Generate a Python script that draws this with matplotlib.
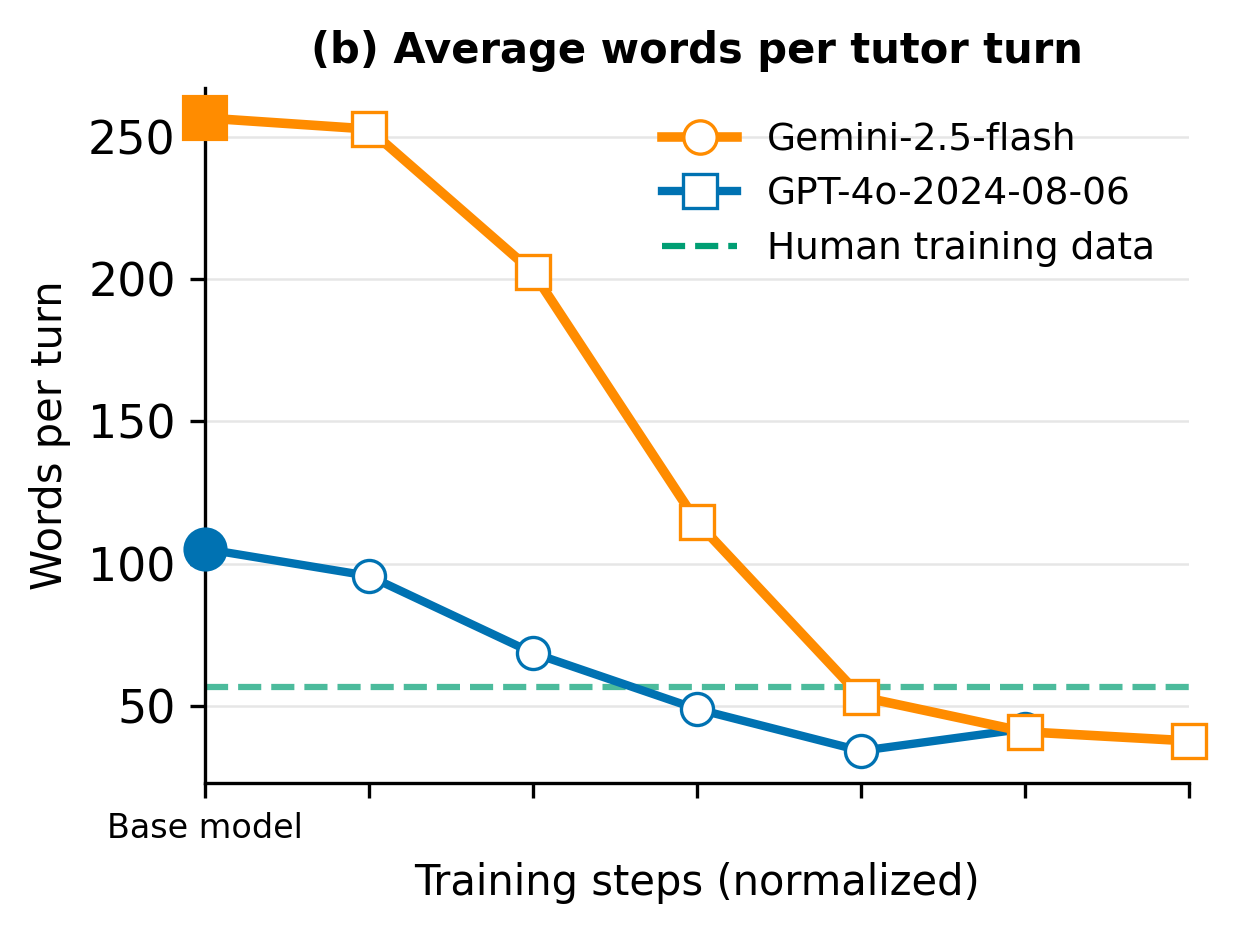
import matplotlib
matplotlib.use("Agg")
import matplotlib.pyplot as plt
from matplotlib.lines import Line2D

# values
gemini_steps = [0, 1, 2, 3, 4, 5, 6]
gemini_words = [256.7, 252.8, 202.5, 114.7, 53.2, 40.9, 37.7]
gpt_steps = [0, 1, 2, 3, 4, 5]
gpt_words = [105.2, 95.7, 68.6, 48.9, 34.2, 42.0]
human_words = 56.7
x_ticks = [0, 1, 2, 3, 4, 5, 6]
x_tick_labels = ["Base model", "", "", "", "", "", ""]
y_ticks = [50, 100, 150, 200, 250]

ORANGE = "#FF8C00"
BLUE = "#0072B2"
GREEN = "#009E73"

fig = plt.figure(figsize=(1234 / 300, 934 / 300), dpi=300)
ax = fig.add_axes([0.166, 0.1617, 0.7975, 0.744])

ax.axhline(human_words, color=GREEN, lw=1.5, ls="--", alpha=0.7, zorder=2)

ax.plot(gpt_steps, gpt_words, color=BLUE, lw=2.0, marker="o", ms=7.7,
        mfc="white", mec=BLUE, mew=0.8, zorder=3, clip_on=False)
ax.plot(gpt_steps[:1], gpt_words[:1], marker="o", ms=9.6, color=BLUE,
        ls="none", zorder=4, clip_on=False)

ax.plot(gemini_steps, gemini_words, color=ORANGE, lw=2.3, marker="s", ms=8,
        mfc="white", mec=ORANGE, mew=0.8, zorder=5, clip_on=False)
ax.plot(gemini_steps[:1], gemini_words[:1], marker="s", ms=10, color=ORANGE,
        ls="none", zorder=6, clip_on=False)

ax.set_xlim(0, 6)
ax.set_ylim(22.9, 267.2)
ax.set_xticks(x_ticks)
ax.set_xticklabels(x_tick_labels, fontsize=8)
ax.set_yticks(y_ticks)
ax.tick_params(axis="y", labelsize=11, width=0.8)
ax.tick_params(axis="x", width=0.8)
ax.grid(axis="y", color="#e6e6e6", lw=0.6, zorder=0)
ax.set_axisbelow(True)
for side in ("top", "right"):
    ax.spines[side].set_visible(False)

ax.set_xlabel("Training steps (normalized)", fontsize=10, labelpad=4)
ax.set_ylabel("Words per turn", fontsize=10)
ax.set_title("(b) Average words per tutor turn", fontsize=10, fontweight="bold")

handles = [
    Line2D([], [], color=ORANGE, lw=2.3, marker="o", ms=8, mfc="white",
           mec=ORANGE, mew=0.8),
    Line2D([], [], color=BLUE, lw=2.0, marker="s", ms=8, mfc="white",
           mec=BLUE, mew=0.8),
    Line2D([], [], color=GREEN, lw=1.5, ls="--"),
]
ax.legend(handles, ["Gemini-2.5-flash", "GPT-4o-2024-08-06", "Human training data"],
          loc="upper right", frameon=False, fontsize=9)

fig.savefig("out.png", dpi=300)
